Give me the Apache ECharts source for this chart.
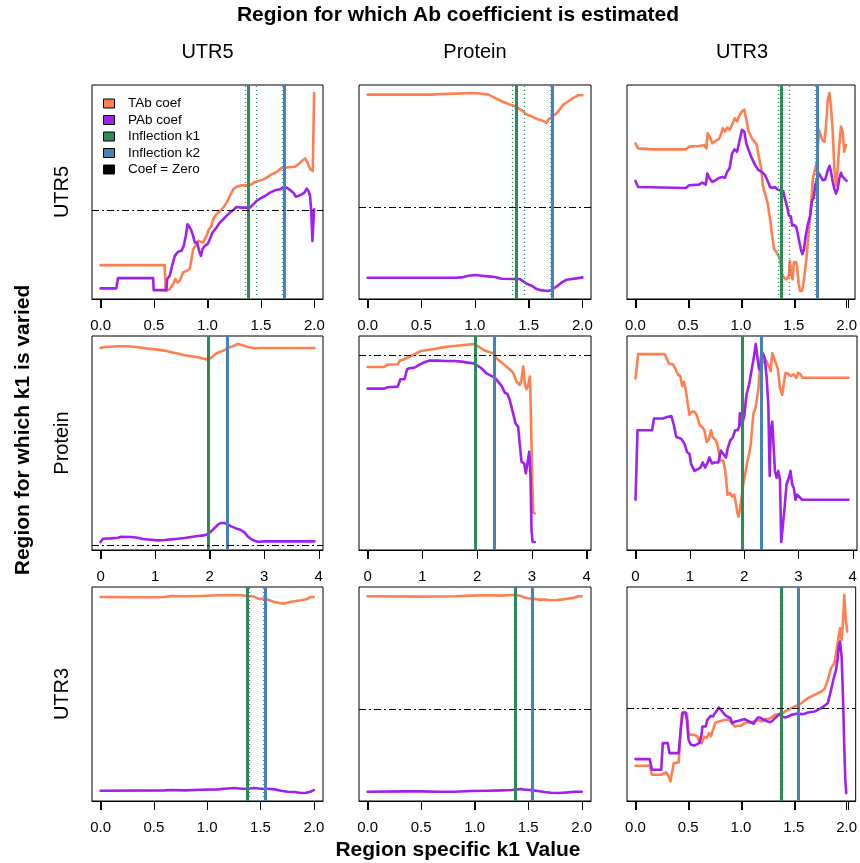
<!DOCTYPE html>
<html>
<head>
<meta charset="utf-8">
<title>Region specific k1 coefficients</title>
<script src="https://cdn.jsdelivr.net/npm/echarts@6/dist/echarts.min.js"></script>
<style>
  html, body { margin: 0; padding: 0; background: #fff; }
  #chart { width: 860px; height: 863px; }
</style>
</head>
<body>
<div id="chart"></div>
<script>
// Regions: rows = region whose k1 is varied, columns = region whose Ab coefficient is estimated
const variedRegions = ['UTR5', 'Protein', 'UTR3'];
const estimatedRegions = ['UTR5', 'Protein', 'UTR3'];

// x tick labels per row
const ticksShort = [0, 0.5, 1, 1.5, 2];
const ticksLong = [0, 1, 2, 3, 4];

// Inflection estimates per varied region (row): [estimate, lower, upper]
const inflectionK1 = [[1.380, 1.346, 1.462], [1.967, 1.955, 1.978], [1.378, 1.370, 1.386]];
const inflectionK2 = [[1.718, 1.700, 1.733], [2.320, 2.315, 2.325], [1.541, 1.533, 1.548]];

// ---- k1 varied in UTR5 ----
const tab_v5_e5 = [[0,-0.166],[0.600,-0.166],[0.609,-0.244],[0.647,-0.238],[0.678,-0.223],[0.700,-0.208],[0.719,-0.218],[0.741,-0.213],[0.772,-0.188],[0.803,-0.183],[0.834,-0.178],[0.850,-0.148],[0.866,-0.118],[0.897,-0.103],[0.913,-0.093],[0.928,-0.096],[0.959,-0.098],[0.991,-0.078],[1.013,-0.058],[1.038,-0.048],[1.053,-0.028],[1.084,-0.013],[1.116,-0.003],[1.147,0.007],[1.178,0.022],[1.209,0.042],[1.241,0.062],[1.272,0.070],[1.319,0.074],[1.381,0.074],[1.413,0.077],[1.444,0.084],[1.475,0.087],[1.522,0.092],[1.553,0.097],[1.600,0.107],[1.647,0.114],[1.694,0.127],[1.725,0.127],[1.772,0.129],[1.819,0.130],[1.850,0.137],[1.881,0.147],[1.913,0.155],[1.938,0.140],[1.959,0.124],[1.984,0.117],[1.997,0.352]];
const pab_v5_e5 = [[0,-0.236],[0.147,-0.236],[0.163,-0.205],[0.491,-0.205],[0.497,-0.241],[0.616,-0.241],[0.622,-0.208],[0.647,-0.198],[0.669,-0.168],[0.694,-0.138],[0.725,-0.126],[0.756,-0.123],[0.778,-0.108],[0.797,-0.078],[0.813,-0.043],[0.828,-0.038],[0.844,-0.058],[0.866,-0.078],[0.881,-0.098],[0.903,-0.098],[0.922,-0.123],[0.938,-0.138],[0.953,-0.118],[0.975,-0.108],[1.000,-0.103],[1.022,-0.088],[1.047,-0.068],[1.084,-0.053],[1.116,-0.038],[1.147,-0.028],[1.178,-0.018],[1.209,-0.008],[1.241,0.000],[1.272,0.009],[1.319,0.007],[1.397,0.007],[1.428,0.017],[1.459,0.027],[1.491,0.034],[1.538,0.042],[1.584,0.052],[1.631,0.059],[1.678,0.062],[1.716,0.070],[1.741,0.067],[1.772,0.060],[1.803,0.052],[1.825,0.040],[1.850,0.042],[1.881,0.047],[1.906,0.052],[1.928,0.064],[1.944,0.057],[1.959,0.042],[1.969,0.002],[1.981,-0.093],[1.997,0.002]];
const tab_v5_eP = [[0,0.338],[0.596,0.338],[0.689,0.340],[0.814,0.341],[0.969,0.343],[1.031,0.342],[1.124,0.338],[1.186,0.328],[1.248,0.318],[1.311,0.310],[1.373,0.303],[1.435,0.291],[1.481,0.278],[1.528,0.273],[1.575,0.265],[1.621,0.261],[1.668,0.253],[1.683,0.263],[1.714,0.271],[1.745,0.278],[1.776,0.288],[1.823,0.308],[1.870,0.318],[1.916,0.328],[1.963,0.336],[2.000,0.336]];
const pab_v5_eP = [[0,-0.211],[0.814,-0.211],[0.876,-0.210],[0.938,-0.205],[1.000,-0.203],[1.062,-0.205],[1.124,-0.207],[1.186,-0.209],[1.248,-0.214],[1.373,-0.215],[1.419,-0.215],[1.450,-0.222],[1.481,-0.229],[1.528,-0.235],[1.575,-0.245],[1.621,-0.249],[1.683,-0.251],[1.714,-0.247],[1.761,-0.237],[1.807,-0.225],[1.854,-0.217],[1.901,-0.215],[1.947,-0.213],[2.000,-0.210]];
const tab_v5_e3 = [[0,0.565],[0.025,0.550],[0.166,0.547],[0.478,0.547],[0.509,0.555],[0.603,0.557],[0.650,0.560],[0.672,0.550],[0.684,0.595],[0.703,0.585],[0.728,0.565],[0.759,0.572],[0.791,0.578],[0.806,0.588],[0.828,0.610],[0.847,0.600],[0.869,0.612],[0.891,0.605],[0.916,0.620],[0.941,0.640],[0.963,0.630],[0.984,0.648],[1.009,0.660],[1.031,0.665],[1.050,0.635],[1.072,0.600],[1.103,0.580],[1.128,0.570],[1.150,0.560],[1.166,0.530],[1.191,0.490],[1.206,0.440],[1.228,0.415],[1.250,0.390],[1.275,0.340],[1.291,0.300],[1.313,0.250],[1.338,0.240],[1.353,0.240],[1.369,0.220],[1.384,0.180],[1.406,0.165],[1.431,0.160],[1.453,0.170],[1.463,0.215],[1.478,0.170],[1.488,0.160],[1.500,0.210],[1.519,0.212],[1.531,0.200],[1.544,0.150],[1.559,0.125],[1.578,0.125],[1.597,0.160],[1.619,0.220],[1.650,0.330],[1.666,0.390],[1.681,0.460],[1.697,0.460],[1.719,0.510],[1.738,0.605],[1.753,0.602],[1.769,0.575],[1.791,0.570],[1.806,0.620],[1.822,0.695],[1.838,0.715],[1.853,0.670],[1.869,0.600],[1.884,0.490],[1.900,0.440],[1.916,0.490],[1.931,0.560],[1.947,0.615],[1.963,0.600],[1.978,0.540],[1.994,0.560]];
const pab_v5_e3 = [[0,0.453],[0.025,0.435],[0.478,0.432],[0.509,0.440],[0.603,0.442],[0.634,0.448],[0.666,0.442],[0.681,0.475],[0.703,0.460],[0.728,0.450],[0.759,0.455],[0.791,0.462],[0.822,0.465],[0.847,0.462],[0.869,0.480],[0.891,0.490],[0.916,0.535],[0.938,0.547],[0.963,0.540],[0.984,0.570],[1.009,0.605],[1.031,0.600],[1.050,0.565],[1.072,0.545],[1.103,0.520],[1.134,0.500],[1.166,0.485],[1.197,0.480],[1.228,0.470],[1.250,0.455],[1.275,0.435],[1.297,0.432],[1.322,0.435],[1.347,0.427],[1.400,0.423],[1.416,0.400],[1.438,0.375],[1.453,0.350],[1.472,0.348],[1.484,0.320],[1.503,0.322],[1.525,0.315],[1.547,0.280],[1.566,0.250],[1.581,0.235],[1.597,0.250],[1.613,0.290],[1.634,0.325],[1.656,0.350],[1.672,0.395],[1.688,0.402],[1.703,0.440],[1.722,0.460],[1.738,0.475],[1.753,0.470],[1.775,0.455],[1.797,0.457],[1.822,0.485],[1.838,0.498],[1.853,0.480],[1.869,0.450],[1.884,0.430],[1.900,0.415],[1.916,0.430],[1.931,0.460],[1.947,0.477],[1.963,0.465],[1.978,0.470],[2.000,0.453]];

// ---- k1 varied in Protein ----
const tab_vP_e5 = [[0,0.593],[0.073,0.596],[0.318,0.598],[0.501,0.598],[0.684,0.595],[0.867,0.591],[1.050,0.588],[1.173,0.585],[1.295,0.580],[1.417,0.576],[1.539,0.571],[1.661,0.568],[1.783,0.565],[1.875,0.561],[1.954,0.558],[1.997,0.560],[2.058,0.568],[2.119,0.576],[2.180,0.581],[2.272,0.586],[2.333,0.593],[2.424,0.598],[2.516,0.605],[2.608,0.601],[2.699,0.596],[2.821,0.592],[2.944,0.593],[3.921,0.593]];
const pab_vP_e5 = [[0,0.011],[0.043,0.021],[0.195,0.022],[0.318,0.024],[0.379,0.027],[0.562,0.026],[0.684,0.024],[0.776,0.020],[0.928,0.018],[1.050,0.016],[1.173,0.017],[1.295,0.019],[1.417,0.021],[1.539,0.023],[1.661,0.026],[1.783,0.029],[1.893,0.031],[1.966,0.035],[2.027,0.043],[2.089,0.053],[2.150,0.063],[2.198,0.068],[2.272,0.068],[2.333,0.064],[2.394,0.058],[2.485,0.052],[2.565,0.048],[2.638,0.040],[2.699,0.028],[2.760,0.020],[2.821,0.015],[2.882,0.012],[3.005,0.013],[3.921,0.013]];
const tab_vP_eP = [[0,-0.034],[0.305,-0.034],[0.366,-0.027],[0.550,-0.026],[0.592,-0.015],[0.672,-0.011],[0.763,-0.003],[0.855,0.004],[0.977,0.014],[1.099,0.017],[1.221,0.020],[1.344,0.024],[1.466,0.027],[1.588,0.029],[1.710,0.031],[1.832,0.033],[1.924,0.035],[1.966,0.032],[2.046,0.025],[2.137,0.015],[2.229,0.010],[2.290,0.007],[2.351,-0.008],[2.443,-0.020],[2.534,-0.033],[2.595,-0.041],[2.656,-0.051],[2.718,-0.078],[2.779,-0.088],[2.809,-0.073],[2.840,-0.033],[2.870,-0.083],[2.901,-0.101],[2.931,-0.088],[2.962,-0.063],[2.980,-0.173],[3.005,-0.373],[3.023,-0.471],[3.053,-0.473]];
const pab_vP_eP = [[0,-0.099],[0.305,-0.099],[0.366,-0.095],[0.550,-0.093],[0.598,-0.071],[0.672,-0.071],[0.721,-0.041],[0.763,-0.038],[0.855,-0.036],[0.947,-0.027],[1.038,-0.020],[1.130,-0.015],[1.282,-0.015],[1.405,-0.016],[1.588,-0.016],[1.710,-0.018],[1.832,-0.021],[1.924,-0.023],[1.985,-0.028],[2.076,-0.038],[2.168,-0.053],[2.260,-0.061],[2.321,-0.066],[2.382,-0.078],[2.443,-0.090],[2.504,-0.111],[2.553,-0.115],[2.595,-0.133],[2.656,-0.173],[2.699,-0.203],[2.748,-0.213],[2.779,-0.268],[2.809,-0.318],[2.858,-0.323],[2.889,-0.353],[2.919,-0.353],[2.950,-0.288],[2.974,-0.363],[2.992,-0.523],[3.011,-0.558],[3.053,-0.559]];
const tab_vP_e3 = [[0,0.613],[0.049,0.685],[0.537,0.685],[0.567,0.675],[0.616,0.657],[0.689,0.655],[0.738,0.640],[0.780,0.625],[0.823,0.620],[0.860,0.590],[0.890,0.603],[0.921,0.585],[0.951,0.550],[0.994,0.505],[1.043,0.515],[1.085,0.515],[1.128,0.505],[1.177,0.477],[1.226,0.470],[1.268,0.460],[1.311,0.425],[1.348,0.432],[1.390,0.460],[1.421,0.440],[1.482,0.430],[1.512,0.415],[1.561,0.370],[1.616,0.370],[1.652,0.340],[1.695,0.270],[1.738,0.275],[1.774,0.265],[1.817,0.270],[1.848,0.245],[1.878,0.215],[1.896,0.205],[1.921,0.225],[1.951,0.260],[1.982,0.300],[2.018,0.330],[2.061,0.370],[2.091,0.390],[2.122,0.420],[2.171,0.510],[2.213,0.528],[2.262,0.582],[2.293,0.660],[2.323,0.690],[2.366,0.660],[2.409,0.665],[2.445,0.670],[2.488,0.635],[2.518,0.688],[2.549,0.692],[2.579,0.660],[2.622,0.640],[2.659,0.585],[2.701,0.565],[2.732,0.600],[2.762,0.630],[2.811,0.627],[2.854,0.620],[2.915,0.625],[2.957,0.615],[2.994,0.630],[3.037,0.625],[3.079,0.615],[3.921,0.615]];
const pab_vP_e3 = [[0,0.255],[0.037,0.460],[0.305,0.460],[0.341,0.495],[0.506,0.495],[0.598,0.500],[0.659,0.502],[0.707,0.475],[0.750,0.440],[0.841,0.435],[0.902,0.420],[0.951,0.395],[0.994,0.390],[1.024,0.360],[1.085,0.340],[1.146,0.345],[1.195,0.350],[1.238,0.365],[1.280,0.350],[1.329,0.365],[1.360,0.380],[1.409,0.362],[1.451,0.365],[1.482,0.360],[1.524,0.365],[1.573,0.400],[1.616,0.390],[1.665,0.380],[1.695,0.405],[1.744,0.430],[1.787,0.438],[1.835,0.460],[1.878,0.460],[1.909,0.470],[1.921,0.510],[1.957,0.475],[2.000,0.500],[2.043,0.565],[2.091,0.595],[2.140,0.640],[2.183,0.680],[2.213,0.715],[2.244,0.710],[2.274,0.640],[2.305,0.650],[2.335,0.690],[2.378,0.675],[2.415,0.615],[2.445,0.535],[2.470,0.325],[2.488,0.460],[2.518,0.485],[2.549,0.480],[2.567,0.340],[2.598,0.320],[2.628,0.340],[2.659,0.315],[2.683,0.130],[2.713,0.130],[2.744,0.230],[2.780,0.300],[2.823,0.320],[2.854,0.340],[2.884,0.300],[2.915,0.290],[2.945,0.255],[2.976,0.270],[3.006,0.270],[3.067,0.255],[3.921,0.255]];

// ---- k1 varied in UTR3 ----
const tab_v3_e5 = [[0,0.710],[0.475,0.709],[0.600,0.710],[0.663,0.713],[0.788,0.712],[0.944,0.713],[1.100,0.715],[1.256,0.716],[1.319,0.715],[1.381,0.713],[1.428,0.712],[1.459,0.708],[1.491,0.704],[1.538,0.705],[1.584,0.700],[1.631,0.695],[1.678,0.692],[1.725,0.690],[1.772,0.695],[1.819,0.697],[1.881,0.700],[1.928,0.703],[1.975,0.710],[2.000,0.710]];
const pab_v3_e5 = [[0,0.130],[0.600,0.131],[0.663,0.132],[0.788,0.131],[0.944,0.133],[1.100,0.134],[1.163,0.136],[1.256,0.138],[1.319,0.136],[1.381,0.136],[1.444,0.138],[1.506,0.136],[1.569,0.136],[1.631,0.134],[1.694,0.130],[1.756,0.127],[1.819,0.126],[1.881,0.123],[1.928,0.124],[1.975,0.128],[2.000,0.132]];
const tab_v3_eP = [[0,0.339],[0.503,0.338],[0.814,0.339],[0.969,0.341],[1.124,0.342],[1.248,0.341],[1.342,0.343],[1.388,0.343],[1.435,0.340],[1.466,0.335],[1.497,0.333],[1.543,0.332],[1.590,0.329],[1.652,0.329],[1.714,0.327],[1.761,0.327],[1.807,0.329],[1.870,0.332],[1.932,0.335],[1.969,0.339],[2.000,0.339]];
const pab_v3_eP = [[0,-0.247],[0.348,-0.246],[0.503,-0.246],[0.658,-0.247],[0.814,-0.247],[0.969,-0.245],[1.124,-0.244],[1.248,-0.243],[1.342,-0.242],[1.404,-0.240],[1.435,-0.239],[1.466,-0.241],[1.497,-0.241],[1.543,-0.243],[1.590,-0.245],[1.652,-0.248],[1.714,-0.250],[1.776,-0.251],[1.823,-0.250],[1.870,-0.249],[1.932,-0.247],[2.000,-0.247]];
const tab_v3_e3 = [[0,-0.173],[0.134,-0.173],[0.156,-0.200],[0.244,-0.200],[0.291,-0.193],[0.316,-0.205],[0.331,-0.220],[0.347,-0.215],[0.363,-0.165],[0.409,-0.163],[0.425,-0.085],[0.441,-0.015],[0.463,-0.013],[0.488,-0.015],[0.500,-0.075],[0.525,-0.080],[0.556,-0.080],[0.588,-0.085],[0.603,-0.100],[0.628,-0.105],[0.650,-0.085],[0.672,-0.090],[0.697,-0.075],[0.713,-0.085],[0.734,-0.065],[0.759,-0.043],[0.791,-0.040],[0.853,-0.035],[0.884,-0.035],[0.916,-0.045],[0.941,-0.055],[0.972,-0.053],[0.994,-0.053],[1.025,-0.047],[1.056,-0.043],[1.088,-0.043],[1.119,-0.040],[1.159,-0.035],[1.197,-0.040],[1.228,-0.033],[1.259,-0.033],[1.291,-0.028],[1.322,-0.020],[1.384,-0.018],[1.416,-0.010],[1.447,-0.005],[1.478,0.000],[1.509,0.005],[1.541,0.010],[1.572,0.015],[1.603,0.023],[1.634,0.030],[1.666,0.035],[1.697,0.040],[1.728,0.045],[1.759,0.050],[1.791,0.057],[1.822,0.085],[1.853,0.120],[1.884,0.135],[1.906,0.175],[1.925,0.215],[1.938,0.240],[1.953,0.205],[1.966,0.255],[1.978,0.340],[1.991,0.275],[2.006,0.230]];
const pab_v3_e3 = [[0,-0.153],[0.134,-0.153],[0.156,-0.185],[0.244,-0.185],[0.259,-0.105],[0.306,-0.105],[0.322,-0.135],[0.409,-0.135],[0.431,-0.055],[0.447,-0.013],[0.472,-0.013],[0.488,-0.035],[0.503,-0.095],[0.525,-0.110],[0.556,-0.112],[0.588,-0.108],[0.609,-0.103],[0.628,-0.075],[0.634,-0.055],[0.650,-0.052],[0.666,-0.055],[0.681,-0.035],[0.697,-0.030],[0.713,-0.023],[0.734,-0.025],[0.753,-0.015],[0.769,-0.010],[0.791,0.002],[0.806,0.003],[0.822,-0.010],[0.847,-0.020],[0.869,-0.025],[0.900,-0.030],[0.916,-0.045],[0.931,-0.050],[0.947,-0.040],[0.978,-0.038],[0.994,-0.043],[1.009,-0.035],[1.034,-0.033],[1.056,-0.037],[1.097,-0.043],[1.119,-0.047],[1.134,-0.043],[1.159,-0.028],[1.181,-0.028],[1.213,-0.035],[1.228,-0.033],[1.253,-0.040],[1.275,-0.042],[1.297,-0.038],[1.322,-0.030],[1.347,-0.023],[1.369,-0.017],[1.384,-0.025],[1.416,-0.028],[1.447,-0.025],[1.478,-0.020],[1.509,-0.018],[1.541,-0.015],[1.572,-0.018],[1.603,-0.017],[1.634,-0.013],[1.697,-0.010],[1.728,-0.005],[1.759,0.000],[1.791,0.007],[1.822,0.015],[1.838,0.035],[1.853,0.055],[1.878,0.090],[1.900,0.115],[1.916,0.150],[1.925,0.185],[1.938,0.200],[1.953,0.155],[1.966,0.035],[1.978,-0.115],[1.988,-0.215],[1.997,-0.255]];

const tabSeries = [[tab_v5_e5, tab_v5_eP, tab_v5_e3], [tab_vP_e5, tab_vP_eP, tab_vP_e3], [tab_v3_e5, tab_v3_eP, tab_v3_e3]];
const pabSeries = [[pab_v5_e5, pab_v5_eP, pab_v5_e3], [pab_vP_e5, pab_vP_eP, pab_vP_e3], [pab_v3_e5, pab_v3_eP, pab_v3_e3]];
const rowTicks = [ticksShort, ticksLong, ticksShort];

const legendLabels = ['TAb coef', 'PAb coef', 'Inflection k1', 'Inflection k2', 'Coef = Zero'];

// ---- styling ----
const COL_TAB = '#FF7F50';
const COL_PAB = '#A020F0';
const COL_K1 = '#2E8B57';
const COL_K2 = '#4682B4';
const FONT = '"Liberation Sans", Arial, Helvetica, sans-serif';
const TICK_LEN = 9;

const gridLeft = [92, 359, 627];
const gridWidth = [231, 232, 230];
const gridTop = [85, 336, 587];
const gridHeight = 214;

// R-style axis limits: data range extended by 4% on each side
function paddedRange(lists, idx) {
  let lo = Infinity, hi = -Infinity;
  lists.forEach(l => l.forEach(p => { lo = Math.min(lo, p[idx]); hi = Math.max(hi, p[idx]); }));
  const pad = (hi - lo) * 0.04;
  return [lo - pad, hi + pad];
}

const grids = [], xAxes = [], yAxes = [], series = [];
const tickMarks = [];

for (let r = 0; r < 3; r++) {
  const rowX = paddedRange([].concat(tabSeries[r], pabSeries[r]), 0);
  const ticks = rowTicks[r];
  const fmt = ticks === ticksShort ? (v => Number(v).toFixed(1)) : (v => String(Math.round(v)));
  for (let c = 0; c < 3; c++) {
    const i = r * 3 + c;
    const tab = tabSeries[r][c], pab = pabSeries[r][c];
    const yr = paddedRange([tab, pab], 1);
    grids.push({
      left: gridLeft[c], top: gridTop[r], width: gridWidth[c], height: gridHeight,
      show: true, borderColor: '#000', borderWidth: 1, backgroundColor: 'transparent'
    });
    xAxes.push({
      type: 'value', gridIndex: i, position: 'bottom', min: rowX[0], max: rowX[1],
      axisLine: { show: true, onZero: false, lineStyle: { color: '#000', width: 1 } },
      splitLine: { show: false },
      axisTick: { show: true, inside: false, length: TICK_LEN, lineStyle: { color: '#000', width: 1 }, customValues: ticks },
      axisLabel: { show: true, color: '#000', fontSize: 15, fontFamily: FONT, margin: 19, customValues: ticks, formatter: fmt }
    });
    yAxes.push({ type: 'value', gridIndex: i, min: yr[0], max: yr[1], show: false });

    const lineCommon = { type: 'line', xAxisIndex: i, yAxisIndex: i, showSymbol: false, symbol: 'none', silent: true, animation: false, clip: true };
    series.push(Object.assign({}, lineCommon, {
      name: 'TAb coef', data: tab, z: 2,
      lineStyle: { color: COL_TAB, width: 2.6, cap: 'round', join: 'round' }
    }));
    series.push(Object.assign({}, lineCommon, {
      name: 'PAb coef', data: pab, z: 2,
      lineStyle: { color: COL_PAB, width: 2.6, cap: 'round', join: 'round' }
    }));

    // inflection lines (solid estimate, dotted interval) and zero reference
    const k1 = inflectionK1[r], k2 = inflectionK2[r];
    const marks = [
      { xAxis: k1[1], lineStyle: { color: COL_K1, width: 1.2, type: [1, 3] } },
      { xAxis: k1[2], lineStyle: { color: COL_K1, width: 1.2, type: [1, 3] } },
      { xAxis: k1[0], lineStyle: { color: COL_K1, width: 3, type: 'solid' } },
      { xAxis: k2[1], lineStyle: { color: COL_K2, width: 1.2, type: [1, 3] } },
      { xAxis: k2[2], lineStyle: { color: COL_K2, width: 1.2, type: [1, 3] } },
      { xAxis: k2[0], lineStyle: { color: COL_K2, width: 3, type: 'solid' } }
    ];
    if (yr[0] < 0 && yr[1] > 0) {
      marks.push({ yAxis: 0, lineStyle: { color: '#000', width: 1, type: [7, 3, 2, 3] } });
    }
    series.push(Object.assign({}, lineCommon, {
      name: 'markers', data: [], z: 3,
      markLine: { silent: true, symbol: ['none', 'none'], animation: false, label: { show: false }, data: marks }
    }));

    // outward tick marks under the panel (same linear mapping as the value axis)
    const bottom = gridTop[r] + gridHeight;
    ticks.forEach(v => {
      const px = gridLeft[c] + (v - rowX[0]) / (rowX[1] - rowX[0]) * gridWidth[c];
      tickMarks.push({
        type: 'line', silent: true, z: 100,
        shape: { x1: Math.round(px) + 0.5, y1: bottom, x2: Math.round(px) + 0.5, y2: bottom + TICK_LEN },
        style: { stroke: '#000', lineWidth: 1 }
      });
    });
  }
}

// text & legend
const graphics = [];
graphics.push({ type: 'text', x: 458, y: 15, style: { text: 'Region for which Ab coefficient is estimated', font: 'bold 21px ' + FONT, fill: '#000', align: 'center', verticalAlign: 'middle' } });
graphics.push({ type: 'text', x: 458, y: 850, style: { text: 'Region specific k1 Value', font: 'bold 21px ' + FONT, fill: '#000', align: 'center', verticalAlign: 'middle' } });
graphics.push({ type: 'text', x: 23, y: 430, rotation: Math.PI / 2, style: { text: 'Region for which k1 is varied', font: 'bold 21px ' + FONT, fill: '#000', align: 'center', verticalAlign: 'middle' } });
for (let c = 0; c < 3; c++) {
  graphics.push({ type: 'text', x: gridLeft[c] + gridWidth[c] / 2, y: 52, style: { text: estimatedRegions[c], font: '20px ' + FONT, fill: '#000', align: 'center', verticalAlign: 'middle' } });
}
for (let r = 0; r < 3; r++) {
  graphics.push({ type: 'text', x: 62, y: gridTop[r] + gridHeight / 2, rotation: Math.PI / 2, style: { text: variedRegions[r], font: '20px ' + FONT, fill: '#000', align: 'center', verticalAlign: 'middle' } });
}
const legendColors = [COL_TAB, COL_PAB, COL_K1, COL_K2, '#000'];
legendLabels.forEach((label, k) => {
  const cy = 103.5 + k * 16.5;
  graphics.push({ type: 'rect', shape: { x: 103.5, y: cy - 4.5, width: 11, height: 9 }, style: { fill: legendColors[k], stroke: '#000', lineWidth: 1 } });
  graphics.push({ type: 'text', x: 128, y: cy, style: { text: label, font: '13.5px ' + FONT, fill: '#000', align: 'left', verticalAlign: 'middle' } });
});

const chart = echarts.init(document.getElementById('chart'), null, { renderer: 'canvas' });
chart.setOption({
  animation: false,
  backgroundColor: '#fff',
  grid: grids,
  xAxis: xAxes,
  yAxis: yAxes,
  series: series,
  graphic: { elements: graphics.concat(tickMarks) }
});
</script>
</body>
</html>
